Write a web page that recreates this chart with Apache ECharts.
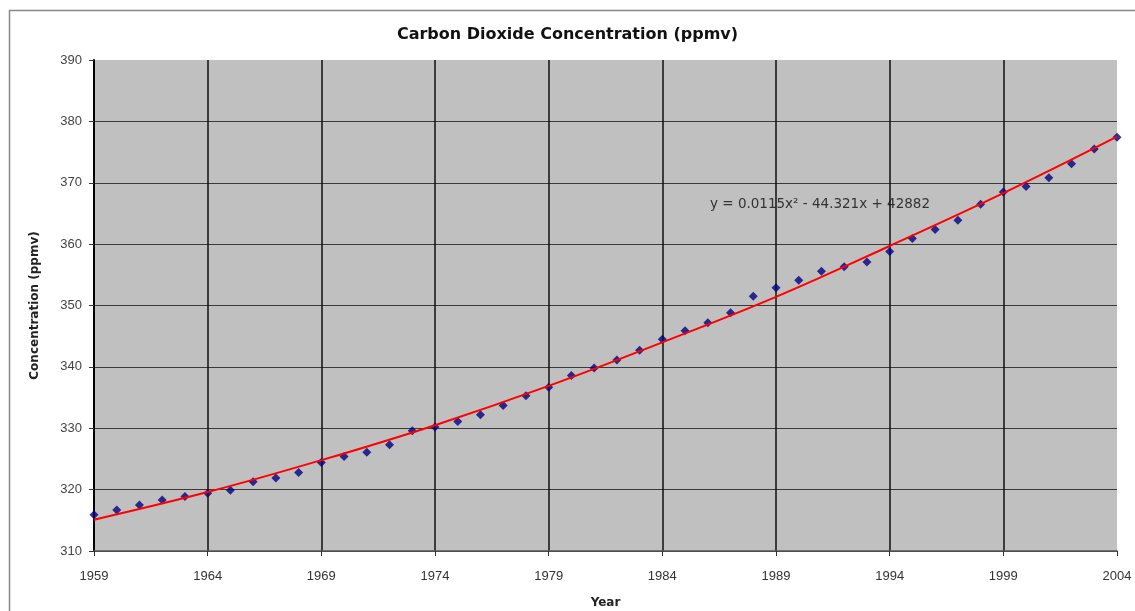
<!DOCTYPE html>
<html>
<head>
<meta charset="utf-8">
<script src="https://cdn.jsdelivr.net/npm/echarts@6/dist/echarts.min.js"></script>
<style>
  html, body { margin: 0; padding: 0; background: #fff; }
  #chart { width: 1135px; height: 611px; }
</style>
</head>
<body>
<div id="chart"></div>
<script>
// annual mean CO2
var years = [1959, 1960, 1961, 1962, 1963, 1964, 1965, 1966, 1967, 1968,
             1969, 1970, 1971, 1972, 1973, 1974, 1975, 1976, 1977, 1978,
             1979, 1980, 1981, 1982, 1983, 1984, 1985, 1986, 1987, 1988,
             1989, 1990, 1991, 1992, 1993, 1994, 1995, 1996, 1997, 1998,
             1999, 2000, 2001, 2002, 2003, 2004];
var co2 = [315.9, 316.7, 317.5, 318.3, 318.9, 319.4, 319.9, 321.3, 321.9, 322.8,
           324.4, 325.4, 326.1, 327.3, 329.6, 330.2, 331.1, 332.2, 333.7, 335.3,
           336.7, 338.6, 339.8, 341.1, 342.7, 344.5, 345.9, 347.2, 348.8, 351.5,
           352.9, 354.1, 355.6, 356.3, 357.1, 358.8, 360.9, 362.4, 363.9, 366.5,
           368.5, 369.4, 370.8, 373.1, 375.5, 377.4];
// red trend curve, read at every 5th year
var trendYears = [1959, 1964, 1969, 1974, 1979, 1984, 1989, 1994, 1999, 2004];
var trendVals = [315.1, 319.6, 324.8, 330.5, 336.9, 344.0, 351.4, 359.7, 368.3, 377.5];
var xTicks = ['1959', '1964', '1969', '1974', '1979', '1984', '1989', '1994', '1999', '2004'];
var yTicks = [310, 320, 330, 340, 350, 360, 370, 380, 390];

var base = years[0];
var chart = echarts.init(document.getElementById('chart'), null, { renderer: 'canvas' });

var option = {
  backgroundColor: '#fff',
  animation: false,
  title: {
    text: 'Carbon Dioxide Concentration (ppmv)',
    left: 'center',
    top: 22,
    textStyle: { fontFamily: 'DejaVu Sans', fontSize: 16, fontWeight: 'bold', color: '#111' }
  },
  grid: {
    left: 94,
    right: 18,
    top: 60,
    bottom: 60,
    outerBoundsMode: 'none',
    show: true,
    backgroundColor: '#c0c0c0',
    borderWidth: 0
  },
  xAxis: {
    type: 'value',
    min: 0,
    max: years[years.length - 1] - base,
    interval: 5,
    name: 'Year',
    nameLocation: 'middle',
    nameGap: 46,
    nameTextStyle: { fontFamily: 'DejaVu Sans', fontSize: 12, fontWeight: 'bold', color: '#222' },
    axisLine: { lineStyle: { color: '#555', width: 1.5 } },
    axisTick: { show: true, length: 5, lineStyle: { color: '#333' } },
    axisLabel: {
      margin: 19,
      fontFamily: 'Liberation Sans',
      fontSize: 13,
      color: '#333',
      formatter: function (v) { return xTicks[Math.round(v / 5)]; }
    },
    splitLine: { show: true, showMaxLine: false, lineStyle: { color: '#111', width: 1.5 } }
  },
  yAxis: {
    type: 'value',
    min: yTicks[0],
    max: yTicks[yTicks.length - 1],
    interval: 10,
    name: 'Concentration (ppmv)',
    nameLocation: 'middle',
    nameGap: 53,
    nameTextStyle: { fontFamily: 'DejaVu Sans', fontSize: 12, fontWeight: 'bold', color: '#222' },
    axisLine: { show: true, lineStyle: { color: '#000', width: 2 } },
    axisTick: { show: true, length: 5, lineStyle: { color: '#333' } },
    axisLabel: { margin: 12, fontFamily: 'Liberation Sans', fontSize: 13, color: '#444' },
    splitLine: { show: true, showMaxLine: false, lineStyle: { color: '#3a3a3a', width: 1.2 } }
  },
  graphic: [
    {
      type: 'rect',
      shape: { x: 9.5, y: 10.5, width: 1200, height: 700 },
      style: { fill: 'none', stroke: '#888', lineWidth: 1.5 },
      silent: true
    },
    {
      type: 'text',
      left: 710,
      top: 197,
      style: {
        text: 'y = 0.0115x\u00b2 - 44.321x + 42882',
        font: '13.5px DejaVu Sans',
        fill: '#333'
      }
    }
  ],
  series: [
    {
      name: 'CO2',
      type: 'scatter',
      symbol: 'diamond',
      symbolSize: 9,
      itemStyle: { color: '#000080' },
      data: years.map(function (y, i) { return [y - base, co2[i]]; }),
      z: 3
    },
    {
      name: 'trend',
      type: 'line',
      smooth: 0.4,
      showSymbol: false,
      lineStyle: { color: '#ff0000', width: 2 },
      data: trendYears.map(function (y, i) { return [y - base, trendVals[i]]; }),
      z: 4
    }
  ]
};

option && chart.setOption(option);
</script>
</body>
</html>
